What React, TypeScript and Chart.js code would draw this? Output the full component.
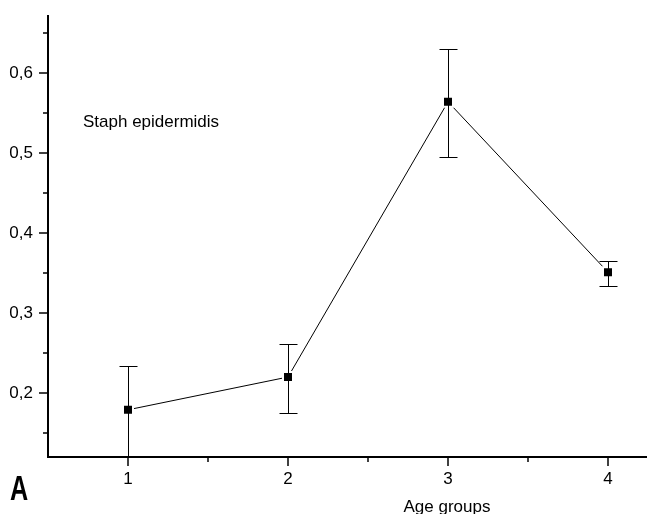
import React, { useEffect, useRef } from "react";
import { Chart, registerables } from "chart.js";

Chart.register(...registerables);

// ---- data ----
const ageGroups = [1, 2, 3, 4];
const meanValues = [0.179, 0.22, 0.564, 0.351];
const upperBounds = [0.234, 0.261, 0.63, 0.365];
const lowerBounds = [0.1, 0.175, 0.495, 0.334];

const xTickValues = [1, 1.5, 2, 2.5, 3, 3.5, 4];
const xTickLabels = ["1", "", "2", "", "3", "", "4"];
const yTickValues = [0.15, 0.2, 0.25, 0.3, 0.35, 0.4, 0.45, 0.5, 0.55, 0.6, 0.65];
const yTickLabels = ["", "0,2", "", "0,3", "", "0,4", "", "0,5", "", "0,6", ""];

const seriesLabel = "Staph epidermidis";
const xAxisTitle = "Age groups";
const panelLetter = "A";

const FONT = "'Liberation Sans', Arial, sans-serif";

const zeroPadding = (s: any) => {
  s.paddingTop = 0;
  s.paddingBottom = 0;
  s.paddingLeft = 0;
  s.paddingRight = 0;
};

const decorPlugin = {
  id: "decor",
  afterDatasetsDraw(chart: any) {
    const { ctx, chartArea, scales } = chart;
    const x = scales.x;
    const y = scales.y;
    ctx.save();
    ctx.beginPath();
    ctx.rect(chartArea.left, chartArea.top, chartArea.right - chartArea.left, chartArea.bottom - chartArea.top);
    ctx.clip();
    ctx.strokeStyle = "#000";
    ctx.lineWidth = 1;
    ageGroups.forEach((g, i) => {
      const px = Math.round(x.getPixelForValue(g)) + 0.5;
      const top = Math.round(y.getPixelForValue(upperBounds[i])) + 0.5;
      const bot = Math.round(y.getPixelForValue(lowerBounds[i])) + 0.5;
      ctx.beginPath();
      ctx.moveTo(px, top);
      ctx.lineTo(px, bot);
      ctx.moveTo(px - 9, top);
      ctx.lineTo(px + 9, top);
      ctx.moveTo(px - 9, bot);
      ctx.lineTo(px + 9, bot);
      ctx.stroke();
    });
    ctx.restore();
  },
  afterDraw(chart: any) {
    const { ctx, chartArea, scales } = chart;
    const x = scales.x;
    const y = scales.y;
    ctx.save();
    ctx.strokeStyle = "#000";
    // axis lines
    ctx.lineWidth = 2;
    ctx.beginPath();
    ctx.moveTo(chartArea.left, chartArea.top);
    ctx.lineTo(chartArea.left, chartArea.bottom);
    ctx.lineTo(chartArea.right, chartArea.bottom);
    ctx.stroke();
    // tick marks
    ctx.lineWidth = 1.5;
    y.ticks.forEach((t: any, i: number) => {
      const py = y.getPixelForValue(t.value);
      const len = yTickLabels[i] ? 9 : 5;
      ctx.beginPath();
      ctx.moveTo(chartArea.left - len, py);
      ctx.lineTo(chartArea.left, py);
      ctx.stroke();
    });
    x.ticks.forEach((t: any, i: number) => {
      const px = x.getPixelForValue(t.value);
      const len = xTickLabels[i] ? 9 : 5;
      ctx.beginPath();
      ctx.moveTo(px, chartArea.bottom);
      ctx.lineTo(px, chartArea.bottom + len);
      ctx.stroke();
    });
    // texts
    ctx.fillStyle = "#000";
    ctx.textBaseline = "alphabetic";
    ctx.font = `17px ${FONT}`;
    ctx.textAlign = "left";
    ctx.fillText(seriesLabel, 83, 127);
    ctx.textAlign = "center";
    ctx.fillText(xAxisTitle, x.getPixelForValue(3) - 1, 512);
    ctx.textAlign = "left";
    ctx.font = `bold 35px ${FONT}`;
    ctx.translate(10, 500);
    ctx.scale(0.72, 1);
    ctx.fillText(panelLetter, 0, 0);
    ctx.restore();
  },
};

export default function App() {
  const canvasRef = useRef<HTMLCanvasElement | null>(null);

  useEffect(() => {
    const canvas = canvasRef.current;
    if (!canvas) return;
    const chart = new Chart(canvas, {
      type: "line",
      data: {
        datasets: [
          {
            label: seriesLabel,
            data: ageGroups.map((g, i) => ({ x: g, y: meanValues[i] })),
            borderColor: "#000",
            borderWidth: 1,
            pointStyle: "rect",
            pointRadius: 7.07,
            pointBackgroundColor: "#000",
            pointBorderColor: "#fff",
            pointBorderWidth: 2,
            tension: 0,
          },
        ],
      },
      options: {
        responsive: false,
        animation: false,
        devicePixelRatio: 1,
        layout: { autoPadding: false, padding: { top: 15, right: 1, left: 0, bottom: 0 } },
        plugins: { legend: { display: false }, tooltip: { enabled: false } },
        scales: {
          x: {
            type: "linear",
            min: 0.5,
            max: 4.24375,
            afterBuildTicks: (s: any) => {
              s.ticks = xTickValues.map((v) => ({ value: v }));
            },
            afterFit: (s: any) => {
              s.height = 57;
              zeroPadding(s);
            },
            grid: { display: false, drawTicks: false },
            border: { display: false },
            ticks: {
              autoSkip: false,
              maxRotation: 0,
              padding: 12,
              color: "#000",
              font: { family: FONT, size: 17 },
              callback: (_v: any, i: number) => xTickLabels[i],
            },
          },
          y: {
            type: "linear",
            min: 0.12,
            max: 0.6725,
            afterBuildTicks: (s: any) => {
              s.ticks = yTickValues.map((v) => ({ value: v }));
            },
            afterFit: (s: any) => {
              s.width = 48;
              zeroPadding(s);
            },
            grid: { display: false, drawTicks: false },
            border: { display: false },
            ticks: {
              autoSkip: false,
              padding: 15,
              color: "#000",
              font: { family: FONT, size: 17 },
              callback: (_v: any, i: number) => yTickLabels[i],
            },
          },
        },
      },
      plugins: [decorPlugin],
    });
    return () => chart.destroy();
  }, []);

  return (
    <div style={{ position: "fixed", top: 0, left: 0, width: 648, height: 514, background: "#fff" }}>
      <canvas ref={canvasRef} width={648} height={514} style={{ display: "block", width: 648, height: 514 }} />
    </div>
  );
}
